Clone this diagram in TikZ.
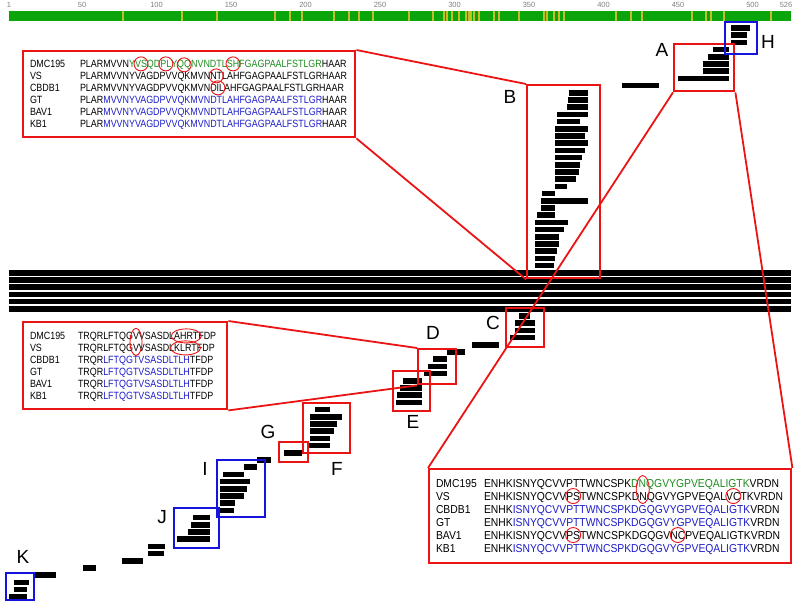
\documentclass[tikz,border=0pt]{standalone}
\usepackage{fontspec}
\setsansfont{Liberation Sans}
\newfontfamily\seqfont[FakeStretch=0.85]{Liberation Sans}
\newfontfamily\seqfontbig[FakeStretch=0.9]{Liberation Sans}
\usetikzlibrary{calc}
\definecolor{seqgreen}{RGB}{30,140,30}
\definecolor{seqblue}{RGB}{30,30,200}
\definecolor{trackgreen}{RGB}{10,165,10}
\definecolor{trackyellow}{RGB}{195,190,40}
\definecolor{boxred}{RGB}{235,20,20}
\definecolor{boxblue}{RGB}{20,20,220}

\begin{document}
\begin{tikzpicture}[x=1pt,y=-1pt]
	 \tikzstyle{block}=[fill=black]
	 \tikzstyle{zoom box}=[draw=boxred,line width=2.4pt,inner sep=0pt,anchor=north west]
	 \tikzstyle{mark box}=[draw=boxblue,line width=2.4pt,inner sep=0pt,anchor=north west]
	 \tikzstyle{callout}=[draw=boxred,line width=2.4pt,fill=white,inner sep=0pt,anchor=north west]
	 \tikzstyle{link}=[draw,line width=1.8pt,boxred]
	 \tikzstyle{letter}=[inner sep=0pt,font=\sffamily\fontsize{19}{19}\selectfont]
	 \tikzstyle{res}=[inner sep=0pt,outer sep=0pt,anchor=base west,font=\seqfont\fontsize{10.5}{12}\selectfont]
	 \tikzstyle{res big}=[res,font=\seqfontbig\fontsize{11.5}{13}\selectfont]
	 \tikzstyle{ring}=[draw=boxred,line width=0.9pt]
	 \tikzstyle{tick label}=[inner sep=0pt,gray,font=\sffamily\fontsize{7.5}{7.5}\selectfont]
	 \useasboundingbox (0,0) rectangle (794,600);
	 % track along the protein
	 \fill[trackgreen] (9,11) rectangle (791,21);
	 \foreach \s in {123,182,217,275,290,302,334,349,359,373,409,433,444,447,452,459,466,469,471,474,479,494,499,519,544,547,554,559,564,616,631,642,692,706,711,724,771}
	   \draw[trackyellow,line width=1.2pt] (\s,11) -- (\s,21);
	 \node[tick label] (t1) at (9,5) {1};
	 \foreach \p in {50,100,...,500}
	   \node[tick label] (t\p) at ({9+(\p-1)*1.49},5) {\p};
	 \node[tick label] (t526) at (786,5) {526};
	 % blocks, one row each
	 \foreach \a/\b/\k in {731/750/-9,731/747/-8,731/747/-7,713/729/-6,708/729/-5,703/729/-4,703/729/-3,678/729/-2,622/659/-1}
	   \fill[block] (\a,{90+7.2*(\k)}) rectangle (\b,{95.5+7.2*(\k)});
	 \foreach \a/\b/\k in {569/588/0,568/588/1,567/588/2,557/588/3,557/580/4,555/588/5,555/585/6,555/588/7,555/585/8,555/582/9,555/580/10,555/579/11,555/576/12,555/567/13,542/555/14,541/588/15,541/555/16,537/555/17,535/568/18,535/564/19,535/559/20,535/559/21,535/557/22,535/555/23,535/554/24}
	   \fill[block] (\a,{90+7.2*(\k)}) rectangle (\b,{95.5+7.2*(\k)});
	 \foreach \k in {25,...,30}
	   \fill[block] (9,{90+7.2*(\k)}) rectangle (791,{95.5+7.2*(\k)});
	 \foreach \a/\b/\k in {519/530/31,515/535/32,515/535/33,510/535/34,472/499/35,447/465/36,433/447/37,428/447/38,424/447/39,403/422/40,400/422/41,397/422/42,396/422/43}
	   \fill[block] (\a,{90+7.2*(\k)}) rectangle (\b,{95.5+7.2*(\k)});
	 \foreach \a/\b/\k in {315/330/44,310/342/45,310/337/46,310/334/47,310/330/48,308/330/49,284/302/50,257/271/51,244/257/52,223/244/53,220/250/54,220/247/55,220/244/56,220/235/57,220/234/58}
	   \fill[block] (\a,{90+7.2*(\k)}) rectangle (\b,{95.5+7.2*(\k)});
	 \foreach \a/\b/\k in {193/210/59,191/210/60,188/210/61,177/210/62,148/165/63,148/164/64,122/143/65,83/96/66,35/56/67,14/29/68,14/27/69,9/27/70}
	   \fill[block] (\a,{90+7.2*(\k)}) rectangle (\b,{95.5+7.2*(\k)});
	 % boxes
	 \node[zoom box,minimum width=60pt,minimum height=47pt] (bxA) at (673,43) {};
	 \node[zoom box,minimum width=73pt,minimum height=193pt] (bxB) at (526,84) {};
	 \node[zoom box,minimum width=38pt,minimum height=39pt] (bxC) at (505,307) {};
	 \node[zoom box,minimum width=38pt,minimum height=35pt] (bxD) at (417,348) {};
	 \node[zoom box,minimum width=37pt,minimum height=40pt] (bxE) at (392,370) {};
	 \node[zoom box,minimum width=47pt,minimum height=50pt] (bxF) at (302,402) {};
	 \node[zoom box,minimum width=29pt,minimum height=20pt] (bxG) at (278,441) {};
	 \node[mark box,minimum width=32pt,minimum height=32pt] (bxH) at (724,21) {};
	 \node[mark box,minimum width=48pt,minimum height=57pt] (bxI) at (216,459) {};
	 \node[mark box,minimum width=45pt,minimum height=40pt] (bxJ) at (173,507) {};
	 \node[mark box,minimum width=28pt,minimum height=27pt] (bxK) at (5,572) {};
	 \node[letter] (lA) at (662,50) {A};
	 \node[letter] (lB) at (510,97) {B};
	 \node[letter] (lC) at (493,323) {C};
	 \node[letter] (lD) at (433,333) {D};
	 \node[letter] (lE) at (413,422) {E};
	 \node[letter] (lF) at (337,469) {F};
	 \node[letter] (lG) at (268,432) {G};
	 \node[letter] (lH) at (768,42) {H};
	 \node[letter] (lI) at (205,469) {I};
	 \node[letter] (lJ) at (162,517) {J};
	 \node[letter] (lK) at (23,557) {K};
	 % callouts
	 \node[callout,minimum width=332pt,minimum height=86pt] (cB) at (22,50) {};
	 \node[callout,minimum width=204pt,minimum height=87pt] (cD) at (22,321) {};
	 \node[callout,minimum width=362pt,minimum height=94pt] (cA) at (428,468) {};
	 \draw[link] (cB.north east) -- (bxB.north west);
	 \draw[link] (cB.south east) -- (bxB.south west);
	 \draw[link] (cD.north east) -- (bxD.north west);
	 \draw[link] (cD.south east) -- (bxD.south west);
	 \draw[link] (bxA.south west) -- (cA.north west);
	 \draw[link] (bxA.south east) -- (cA.north east);
	 % callout B
	 \foreach \nm [count=\i from 0] in {DMC195,VS,CBDB1,GT,BAV1,KB1}
	   \node[res] (nB\i) at (30,67.5+12*\i) {\nm};
	 \node[res] (sB0) at (80,67.5) {PLARMVVN\textcolor{seqgreen}{Y}};
	 \node[res,seqgreen] (rB1) at (sB0.base east) {VS};
	 \node[res,seqgreen] (sB0a) at (rB1.base east) {QD};
	 \node[res,seqgreen] (rB2) at (sB0a.base east) {PL};
	 \node[res,seqgreen] (sB0b) at (rB2.base east) {Y};
	 \node[res,seqgreen] (rB3) at (sB0b.base east) {QQ};
	 \node[res,seqgreen] (sB0c) at (rB3.base east) {NVNDTL};
	 \node[res,seqgreen] (rB4) at (sB0c.base east) {SH};
	 \node[res] (sB0d) at (rB4.base east) {\textcolor{seqgreen}{FGAGPAALFSTLGR}HAAR};
	 \node[res] (sB1) at (80,79.5) {PLARMVVNYVAGDPVVQKMVN};
	 \node[res] (rB5) at (sB1.base east) {NT};
	 \node[res] (sB1a) at (rB5.base east) {LAHFGAGPAALFSTLGRHAAR};
	 \node[res] (sB2) at (80,91.5) {PLARMVVNYVAGDPVVQKMVND};
	 \node[res] (rB6) at (sB2.base east) {I};
	 \node[res] (sB2a) at (rB6.base east) {LAHFGAGPAALFSTLGRHAAR};
	 \foreach \i in {3,4,5}
	   \node[res] (sB\i) at (80,67.5+12*\i) {PLAR\textcolor{seqblue}{MVVNYVAGDPVVQKMVNDTLAHFGAGPAALFSTLGR}HAAR};
	 \foreach \r in {1,...,6}
	   \draw[ring] (rB\r.center) circle[radius=7];
	 % callout D
	 \foreach \nm [count=\i from 0] in {DMC195,VS,CBDB1,GT,BAV1,KB1}
	   \node[res] (nD\i) at (30,339.5+12*\i) {\nm};
	 \node[res] (sD0) at (78,339.5) {TRQRLFTQG};
	 \node[res] (rD1) at (sD0.base east) {V};
	 \node[res] (sD0a) at (rD1.base east) {VSASDL};
	 \node[res] (rD2) at (sD0a.base east) {AHRT};
	 \node[res] (sD0b) at (rD2.base east) {FDP};
	 \node[res] (sD1) at (78,351.5) {TRQRLFTQG};
	 \node[res] (rD3) at (sD1.base east) {V};
	 \node[res] (sD1a) at (rD3.base east) {VSASDL};
	 \node[res] (rD4) at (sD1a.base east) {KLRT};
	 \node[res] (sD1b) at (rD4.base east) {FDP};
	 \foreach \i in {2,...,5}
	   \node[res] (sD\i) at (78,339.5+12*\i) {TRQR\textcolor{seqblue}{LFTQGTVSASDLTLH}TFDP};
	 \draw[ring] ($(rD1.center)!0.5!(rD3.center)$) ellipse[x radius=6,y radius=13.5];
	 \draw[ring] (rD2.center) ellipse[x radius=15,y radius=7];
	 \draw[ring] (rD4.center) ellipse[x radius=15,y radius=7];
	 % callout A
	 \foreach \nm [count=\i from 0] in {DMC195,VS,CBDB1,GT,BAV1,KB1}
	   \node[res big] (nA\i) at (436,487+13*\i) {\nm};
	 \node[res big] (sA0) at (484,487) {ENHKISNYQCVVPTTWNCSPK\textcolor{seqgreen}{D}};
	 \node[res big,seqgreen] (rA1) at (sA0.base east) {N};
	 \node[res big] (sA0a) at (rA1.base east) {\textcolor{seqgreen}{QGVYGPVEQALIGTK}VRDN};
	 \node[res big] (sA1) at (484,500) {ENHKISNYQCVV};
	 \node[res big] (rA2) at (sA1.base east) {PS};
	 \node[res big] (sA1a) at (rA2.base east) {TWNCSPKD};
	 \node[res big] (rA3) at (sA1a.base east) {N};
	 \node[res big] (sA1b) at (rA3.base east) {QGVYGPVEQAL};
	 \node[res big] (rA4) at (sA1b.base east) {VC};
	 \node[res big] (sA1c) at (rA4.base east) {TKVRDN};
	 \foreach \i in {2,3,5}
	   \node[res big] (sA\i) at (484,487+13*\i) {ENHK\textcolor{seqblue}{ISNYQCVVPTTWNCSPKDGQGVYGPVEQALIGTK}VRDN};
	 \node[res big] (sA4) at (484,539) {ENHKISNYQCVV};
	 \node[res big] (rA5) at (sA4.base east) {PS};
	 \node[res big] (sA4a) at (rA5.base east) {TWNCSPKDGQGV};
	 \node[res big] (rA6) at (sA4a.base east) {NC};
	 \node[res big] (sA4b) at (rA6.base east) {PVEQALIGTKVRDN};
	 \draw[ring] ($(rA1.center)!0.5!(rA3.center)$) ellipse[x radius=6.5,y radius=14];
	 \foreach \r in {2,4,5,6}
	   \draw[ring] (rA\r.center) circle[radius=7.5];
\end{tikzpicture}
\end{document}
